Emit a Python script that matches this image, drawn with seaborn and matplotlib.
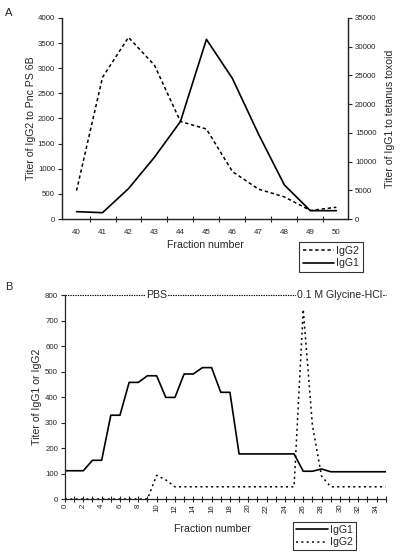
import numpy as np
import pandas as pd
import matplotlib
matplotlib.use("Agg")
import matplotlib.pyplot as plt
import seaborn as sns
from matplotlib.lines import Line2D
from matplotlib.ticker import MultipleLocator, FixedLocator

# ---------------- data ----------------
# Panel A
fractions_a = [40, 41, 42, 43, 44, 45, 46, 47, 48, 49, 50]
igg2_a = [565, 2820, 3615, 3060, 1940, 1790, 945, 595, 440, 170, 233]          # left axis
igg1_a = [1280, 1100, 5290, 10760, 16980, 31280, 24480, 14830, 5930, 1450, 1450]  # right axis

# Panel B
fractions_b = list(range(0, 36))
igg1_b = [111, 111, 111, 152, 152, 329, 329, 458, 458, 484, 484, 399, 399, 491, 491,
          516, 516, 419, 419, 177, 177, 177, 177, 177, 177, 177, 109, 109, 118, 107,
          107, 107, 107, 107, 107, 107]
igg2_b = [0, 0, 0, 0, 0, 0, 0, 0, 0, 0, 93, 75, 48, 48, 48, 48, 48, 48, 48, 48,
          48, 48, 48, 48, 48, 48, 745, 290, 90, 48, 48, 48, 48, 48, 48, 48]

buffer_level = 800
buffer_names = ["PBS", "0.1 M Glycine-HCl"]
buffer_label_x = [10, 30]

# ---------------- style ----------------
sns.set_style("ticks")
plt.rcParams["font.family"] = ["Liberation Sans", "DejaVu Sans"]
plt.rcParams["axes.linewidth"] = 0.9
plt.rcParams["xtick.major.width"] = 0.8
plt.rcParams["ytick.major.width"] = 0.8
plt.rcParams["xtick.minor.width"] = 0.8

LBL = 7.6
TCK = 5.7
dash_a = (0, (2.2, 1.8))
dot_b = (0, (1.3, 2.2))

fig = plt.figure(figsize=(4.0, 5.55), dpi=100)
W, H = 400.0, 555.0

def fax(l, t, r, b):
    return fig.add_axes([l / W, 1 - b / H, (r - l) / W, (b - t) / H])

# ---------------- panel A ----------------
axA = fax(62, 18, 348, 219)
dfA = pd.DataFrame({"Fraction": fractions_a, "IgG2": igg2_a, "IgG1": igg1_a})
sns.lineplot(data=dfA, x="Fraction", y="IgG2", ax=axA, color="black",
             linewidth=1.1, linestyle=dash_a, legend=False)
axA.set_ylim(0, 4000)
axA.set_xlim(39.44, 50.45)
axA.yaxis.set_major_locator(MultipleLocator(500))
axA.xaxis.set_major_locator(FixedLocator(fractions_a))
axA.xaxis.set_minor_locator(FixedLocator([f + 0.5 for f in fractions_a[:-1]]))
axA.tick_params(axis="x", which="major", length=0, labelsize=TCK, pad=7)
axA.tick_params(axis="x", which="minor", direction="inout", length=5)
axA.tick_params(axis="y", direction="out", length=3, labelsize=TCK, pad=2)
axA.set_xlabel("Fraction number", fontsize=LBL, labelpad=3)
axA.set_ylabel("Titer of IgG2 to Pnc PS 6B", fontsize=LBL, labelpad=1)
axA.spines["top"].set_visible(False)

axA2 = axA.twinx()
sns.lineplot(data=dfA, x="Fraction", y="IgG1", ax=axA2, color="black",
             linewidth=1.2, legend=False)
axA2.set_ylim(0, 35000)
axA2.yaxis.set_major_locator(MultipleLocator(5000))
axA2.tick_params(axis="y", direction="out", length=3, labelsize=TCK, pad=2)
axA2.set_ylabel("Titer of IgG1 to tetanus toxoid", fontsize=LBL, labelpad=6)
axA2.spines["top"].set_visible(False)
axA2.set_xlim(39.44, 50.45)

hA = [Line2D([], [], color="black", lw=1.1, linestyle=dash_a),
      Line2D([], [], color="black", lw=1.2)]
legA = fig.legend(hA, ["IgG2", "IgG1"], loc="upper left",
                  bbox_to_anchor=(299 / W, 1 - 242 / H), fontsize=LBL,
                  frameon=True, fancybox=False, edgecolor="black",
                  handlelength=3.0, handletextpad=0.2, borderpad=0.35,
                  labelspacing=0.25, borderaxespad=0)
legA.get_frame().set_linewidth(0.8)

fig.text(5 / W, 1 - 13 / H, "A", fontsize=8, va="center", ha="left")

# ---------------- panel B ----------------
axB = fax(65, 295.3, 385.7, 499)
dfB = pd.DataFrame({"Fraction": fractions_b, "IgG1": igg1_b, "IgG2": igg2_b})
sns.lineplot(data=dfB, x="Fraction", y="IgG1", ax=axB, color="black",
             linewidth=1.2, legend=False)
sns.lineplot(data=dfB, x="Fraction", y="IgG2", ax=axB, color="black",
             linewidth=1.1, linestyle=dot_b, legend=False)
axB.set_xlim(0, 35)
axB.set_ylim(0, 800)
axB.axhline(buffer_level, color="black", lw=0.8, linestyle=(0, (1.2, 1.0)),
            clip_on=False)
for name, xpos in zip(buffer_names, buffer_label_x):
    axB.text(xpos, buffer_level, name, fontsize=LBL, ha="center", va="center",
             bbox=dict(facecolor="white", edgecolor="none", pad=0.6))
axB.xaxis.set_major_locator(MultipleLocator(2))
axB.xaxis.set_minor_locator(MultipleLocator(1))
axB.yaxis.set_major_locator(MultipleLocator(100))
axB.tick_params(axis="x", which="both", direction="inout", length=5,
                labelsize=TCK, labelrotation=90, pad=1)
axB.tick_params(axis="y", direction="out", length=3, labelsize=TCK, pad=2)
axB.set_xlabel("Fraction number", fontsize=LBL, labelpad=3)
axB.xaxis.set_label_coords((212 - 65) / 320.7, -0.125)
axB.set_ylabel("Titer of IgG1 or IgG2", fontsize=LBL, labelpad=2)
axB.spines["top"].set_visible(False)
axB.spines["right"].set_visible(False)

hB = [Line2D([], [], color="black", lw=1.2),
      Line2D([], [], color="black", lw=1.1, linestyle=dot_b)]
legB = fig.legend(hB, ["IgG1", "IgG2"], loc="upper left",
                  bbox_to_anchor=(293 / W, 1 - 522 / H), fontsize=LBL,
                  frameon=True, fancybox=False, edgecolor="black",
                  handlelength=3.0, handletextpad=0.2, borderpad=0.3,
                  labelspacing=0.2, borderaxespad=0)
legB.get_frame().set_linewidth(0.8)

fig.text(5 / W, 1 - 287 / H, "B", fontsize=8, va="center", ha="left")

fig.savefig("out.png", dpi=100)
